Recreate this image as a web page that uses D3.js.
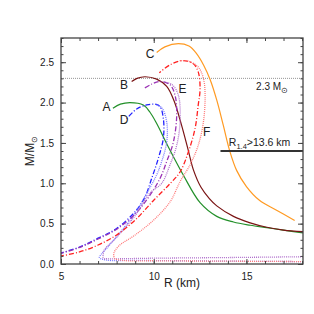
<!DOCTYPE html>
<html>
<head>
<meta charset="utf-8">
<script src="https://cdn.jsdelivr.net/npm/d3@7"></script>
<style>
  html, body { margin: 0; padding: 0; background: #fff; }
  text { font-family: "Liberation Sans", Arial, sans-serif; fill: #222; }
</style>
</head>
<body>
<div id="chart"></div>
<script>
// Mass-radius curves, [R (km), M/Msun]
const curveA = [[7.8,1.93],[8.2,1.98],[8.72,2.0],[9.44,1.97],[9.8,1.88],[10.16,1.74],[10.79,1.45],[11.6,1.10],[12.5,0.76],[13.4,0.59],[14.3,0.52],[15.2,0.48],[16.1,0.45],[17.0,0.42],[18.05,0.385]];
const curveB = [[8.81,2.26],[9.1,2.30],[9.53,2.32],[10.16,2.29],[10.7,2.20],[11.1,2.02],[11.5,1.72],[11.85,1.42],[12.15,1.16],[12.55,0.95],[13.0,0.81],[13.4,0.72],[14.3,0.59],[15.2,0.51],[16.1,0.455],[17.0,0.42],[18.05,0.40]];
const curveC = [[10.16,2.62],[10.6,2.69],[11.33,2.73],[11.9,2.70],[12.3,2.61],[12.7,2.46],[13.05,2.28],[13.4,2.03],[13.75,1.72],[14.1,1.40],[14.47,1.16],[15.0,0.96],[15.7,0.79],[16.6,0.67],[17.6,0.54]];
const curveD = [[4.9,0.13],[6,0.21],[7,0.32],[8,0.44],[9,0.65],[9.53,0.83],[9.89,1.06],[10.25,1.31],[10.52,1.56],[10.52,1.80],[10.34,1.95],[10.07,1.98],[9.62,1.97],[9.08,1.92],[8.54,1.80]];
const curveDcrust = [[18.05,0.03],[14,0.035],[9,0.045],[7.4,0.05],[7.07,0.08],[7.2,0.13],[7.37,0.17],[8.0,0.34],[9.0,0.63],[9.62,0.875],[10.15,1.1],[10.43,1.27],[10.7,1.51],[10.7,1.76],[10.45,1.93],[10.1,1.98]];
const curveE = [[4.9,0.125],[6,0.205],[7,0.31],[8,0.43],[9,0.62],[9.7,0.82],[10.34,1.06],[10.7,1.27],[11.06,1.51],[11.24,1.84],[11.15,2.09],[10.88,2.22],[10.34,2.26],[9.9,2.23],[9.44,2.17]];
const curveEcrust = [[18.05,0.09],[14,0.08],[10,0.072],[7.5,0.065],[7.28,0.07],[7.28,0.12],[7.32,0.17],[8.0,0.33],[9,0.6],[9.8,0.88],[10.43,1.0],[10.88,1.23],[11.24,1.47],[11.42,1.76],[11.33,2.09],[11.0,2.22],[10.5,2.26]];
const curveF = [[4.9,0.095],[6,0.15],[7,0.235],[8,0.36],[9,0.545],[10,0.79],[10.9,1.0],[11.42,1.14],[11.87,1.39],[12.23,1.68],[12.4,1.97],[12.5,2.17],[12.4,2.38],[12.14,2.48],[11.6,2.52],[10.9,2.47],[10.3,2.37]];
const curveFcrust = [[18.05,0.03],[14,0.035],[10,0.04],[8.3,0.045],[7.9,0.07],[7.85,0.13],[8.1,0.22],[9.0,0.36],[10,0.545],[10.88,0.77],[11.42,1.02],[11.96,1.23],[12.4,1.47],[12.68,1.76],[12.77,2.09],[12.68,2.30],[12.4,2.44],[11.9,2.51],[11.4,2.52]];

const series = [
  { name: "A", pts: curveA, color: "#23902a", dash: null },
  { name: "B", pts: curveB, color: "#7a1414", dash: null },
  { name: "C", pts: curveC, color: "#ff9a22", dash: null },
  { name: "D", pts: curveD, color: "#2222ff", dash: "5,2,1,2" },
  { name: "Dc", pts: curveDcrust, color: "#7a7aff", dash: "1,1" },
  { name: "E", pts: curveE, color: "#9a32b4", dash: "5,2,1,2" },
  { name: "Ec", pts: curveEcrust, color: "#b070cc", dash: "1,1" },
  { name: "F", pts: curveF, color: "#ff2020", dash: "5,2,1,2" },
  { name: "Fc", pts: curveFcrust, color: "#ff7a7a", dash: "1,1" }
];

// curve letters, placed at [R, M]
const labelNames = ["A", "B", "C", "D", "E", "F"];
const labelR = [7.45, 8.4, 9.8, 8.4, 11.55, 12.85];
const labelM = [1.93, 2.21, 2.59, 1.77, 2.16, 1.63];

const xTicks = [5, 10, 15];
const yTicks = [0.0, 0.5, 1.0, 1.5, 2.0, 2.5];
const maxMassLine = 2.3;
const r14Limit = 13.6;

const width = 314, height = 314;
const margin = { top: 38, right: 11, bottom: 50, left: 61 };
const innerW = width - margin.left - margin.right;
const innerH = height - margin.top - margin.bottom;

const x = d3.scaleLinear().domain([5, 18.05]).range([0, innerW]);
const y = d3.scaleLinear().domain([0, 2.8]).range([innerH, 0]);

const svg = d3.select("#chart").append("svg")
  .attr("width", width)
  .attr("height", height);

svg.append("defs").append("clipPath").attr("id", "clip")
  .append("rect").attr("width", innerW).attr("height", innerH);

const g = svg.append("g").attr("transform", `translate(${margin.left},${margin.top})`);

// 2.3 Msun reference line
g.append("line")
  .attr("x1", 0).attr("x2", innerW)
  .attr("y1", y(maxMassLine)).attr("y2", y(maxMassLine))
  .attr("stroke", "#888").attr("stroke-width", 0.9)
  .attr("stroke-dasharray", "1,1");

const line = d3.line()
  .x(d => x(d[0]))
  .y(d => y(d[1]))
  .curve(d3.curveCatmullRom.alpha(0.5));

const plot = g.append("g").attr("clip-path", "url(#clip)");
plot.selectAll("path")
  .data(series)
  .join("path")
  .attr("d", d => line(d.pts))
  .attr("fill", "none")
  .attr("stroke", d => d.color)
  .attr("stroke-width", d => d.dash ? 1.3 : 1.2)
  .attr("stroke-dasharray", d => d.dash);

// R_1.4 constraint bar
g.append("line")
  .attr("x1", x(r14Limit)).attr("x2", innerW)
  .attr("y1", y(1.4)).attr("y2", y(1.4))
  .attr("stroke", "#333").attr("stroke-width", 1.8);

// axes with inward ticks on all sides
function addAxis(axis, transform) {
  const a = g.append("g").attr("transform", transform).call(axis);
  a.select(".domain").remove();
  a.selectAll("line").attr("stroke", "#444");
  return a;
}
const minorX = d3.range(5, 19, 1);
const minorY = d3.range(0, 2.81, 0.1);

addAxis(d3.axisBottom(x).tickValues(minorX).tickSize(-3).tickFormat(""), `translate(0,${innerH})`);
addAxis(d3.axisTop(x).tickValues(minorX).tickSize(-3).tickFormat(""), "translate(0,0)");
addAxis(d3.axisLeft(y).tickValues(minorY).tickSize(-2.5).tickFormat(""), "translate(0,0)");
addAxis(d3.axisRight(y).tickValues(minorY).tickSize(-2.5).tickFormat(""), `translate(${innerW},0)`);

const xb = addAxis(d3.axisBottom(x).tickValues(xTicks).tickSize(-5).tickPadding(9).tickFormat(d3.format("d")), `translate(0,${innerH})`);
addAxis(d3.axisTop(x).tickValues(xTicks).tickSize(-5).tickFormat(""), "translate(0,0)");
const yl = addAxis(d3.axisLeft(y).tickValues(yTicks).tickSize(-5).tickPadding(7).tickFormat(d3.format(".1f")), "translate(0,0)");
addAxis(d3.axisRight(y).tickValues(yTicks).tickSize(-5).tickFormat(""), `translate(${innerW},0)`);

xb.selectAll("text").attr("font-size", 10).attr("fill", "#222");
yl.selectAll("text").attr("font-size", 10).attr("fill", "#222");

g.append("rect")
  .attr("width", innerW).attr("height", innerH)
  .attr("fill", "none").attr("stroke", "#444").attr("stroke-width", 1.3);

// curve letters
g.selectAll("text.lbl")
  .data(labelNames)
  .join("text")
  .attr("class", "lbl")
  .attr("x", (d, i) => x(labelR[i]))
  .attr("y", (d, i) => y(labelM[i]))
  .attr("text-anchor", "middle")
  .attr("dominant-baseline", "middle")
  .attr("font-size", 12)
  .text(d => d);

// annotations
const t23 = g.append("text")
  .attr("x", x(15.52)).attr("y", y(2.16))
  .attr("font-size", 10);
t23.append("tspan").text("2.3 M");
t23.append("tspan").attr("dy", 3).attr("font-size", 8).text("\u2299");

const tR = g.append("text")
  .attr("x", x(14.05)).attr("y", y(1.46))
  .attr("font-size", 10.5);
tR.append("tspan").text("R");
tR.append("tspan").attr("dy", 3).attr("font-size", 7.5).text("1.4");
tR.append("tspan").attr("dy", -3).text(">13.6 km");

// axis titles
g.append("text")
  .attr("x", innerW / 2).attr("y", innerH + 23)
  .attr("text-anchor", "middle")
  .attr("font-size", 12)
  .text("R (km)");

const yt = svg.append("text")
  .attr("transform", `translate(34,${margin.top + innerH / 2}) rotate(-90)`)
  .attr("text-anchor", "middle")
  .attr("font-size", 12);
yt.append("tspan").text("M/M");
yt.append("tspan").attr("dy", 3).attr("font-size", 8).text("\u2299");
</script>
</body>
</html>
